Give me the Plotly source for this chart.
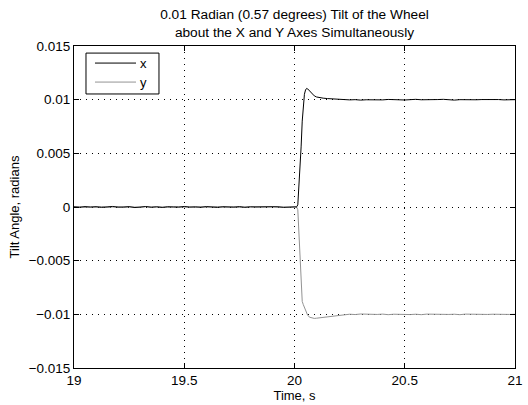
import plotly.graph_objects as go

# ---- data ----
time_before = [19.000, 19.025, 19.050, 19.075, 19.100, 19.125, 19.150, 19.175, 19.200, 19.225,
               19.250, 19.275, 19.300, 19.325, 19.350, 19.375, 19.400, 19.425, 19.450, 19.475,
               19.500, 19.525, 19.550, 19.575, 19.600, 19.625, 19.650, 19.675, 19.700, 19.725,
               19.750, 19.775, 19.800, 19.825, 19.850, 19.875, 19.900, 19.925, 19.950, 19.975]
x_before = [0.00002, -0.00003, 0.00004, -0.00001, 0.00003, -0.00004, 0.00001, 0.00005, -0.00002, 0.00000,
            0.00003, -0.00005, 0.00002, 0.00004, -0.00002, 0.00001, -0.00004, 0.00003, 0.00000, -0.00002,
            0.00005, -0.00001, 0.00002, -0.00003, 0.00004, 0.00000, -0.00004, 0.00003, 0.00001, -0.00002,
            0.00004, -0.00003, 0.00001, 0.00002, -0.00004, 0.00003, -0.00001, 0.00002, -0.00003, 0.00001]
y_before = [-0.00001, 0.00003, -0.00004, 0.00002, -0.00002, 0.00004, -0.00003, 0.00001, 0.00003, -0.00005,
            0.00002, 0.00000, -0.00003, 0.00004, -0.00001, 0.00003, 0.00001, -0.00004, 0.00002, 0.00004,
            -0.00002, 0.00001, -0.00004, 0.00003, -0.00001, 0.00002, 0.00004, -0.00003, 0.00000, 0.00003,
            -0.00004, 0.00002, 0.00003, -0.00002, 0.00001, -0.00003, 0.00004, -0.00001, 0.00002, -0.00002]

time_step = [20.000, 20.005, 20.010, 20.015, 20.020, 20.025, 20.030, 20.035, 20.040, 20.045,
             20.050, 20.055, 20.060, 20.070, 20.080, 20.090, 20.100, 20.115, 20.130, 20.150, 20.175]
x_step = [0.00001, 0.00000, 0.00002, 0.00020, 0.00180, 0.00330, 0.00560, 0.00800, 0.00970, 0.01050,
          0.01090, 0.01105, 0.01100, 0.01075, 0.01050, 0.01035, 0.01025, 0.01018, 0.01014, 0.01010, 0.01006]
y_step = [-0.00001, 0.00001, -0.00002, -0.00025, -0.00260, -0.00560, -0.00800, -0.00880, -0.00910, -0.00940,
          -0.00970, -0.00990, -0.01010, -0.01028, -0.01036, -0.01038, -0.01036, -0.01033, -0.01030, -0.01024, -0.01016]

time_after = [20.200, 20.225, 20.250, 20.275, 20.300, 20.325, 20.350, 20.375, 20.400, 20.425,
              20.450, 20.475, 20.500, 20.525, 20.550, 20.575, 20.600, 20.625, 20.650, 20.675,
              20.700, 20.725, 20.750, 20.775, 20.800, 20.825, 20.850, 20.875, 20.900, 20.925,
              20.950, 20.975, 21.000]
x_after = [0.01004, 0.01001, 0.00998, 0.01000, 0.00996, 0.00999, 0.00997, 0.01001, 0.00998, 0.01002,
           0.00999, 0.01001, 0.00997, 0.01000, 0.01003, 0.00999, 0.01002, 0.00998, 0.01001, 0.01003,
           0.00998, 0.00996, 0.01000, 0.00998, 0.01002, 0.00999, 0.01001, 0.01003, 0.00999, 0.01001,
           0.00998, 0.01002, 0.01000]
y_after = [-0.01010, -0.01005, -0.00999, -0.01002, -0.00997, -0.01000, -0.00996, -0.01001, -0.00998, -0.01003,
           -0.00999, -0.01001, -0.00997, -0.01002, -0.00999, -0.01003, -0.00998, -0.01000, -0.01002, -0.00997,
           -0.01001, -0.00999, -0.01003, -0.00998, -0.01000, -0.01002, -0.00997, -0.01001, -0.00999, -0.01002,
           -0.00998, -0.01001, -0.01000]

time = time_before + time_step + time_after
tilt_x = x_before + x_step + x_after
tilt_y = y_before + y_step + y_after

series_names = ["x", "y"]
series_colors = ["#000000", "#939393"]

x_ticks = [19, 19.5, 20, 20.5, 21]
y_ticks = [-0.015, -0.01, -0.005, 0, 0.005, 0.01, 0.015]
y_ticktext = ["\u22120.015", "\u22120.01", "\u22120.005", "0", "0.005", "0.01", "0.015"]

FONT = "Liberation Sans, Arial, Helvetica, sans-serif"
TICK_SIZE = 13.5
LABEL_SIZE = 13
TITLE_SIZE = 13.7

fig = go.Figure()
fig.add_trace(go.Scatter(x=time, y=tilt_y, mode="lines", name=series_names[1],
                         line=dict(color=series_colors[1], width=1), showlegend=False))
fig.add_trace(go.Scatter(x=time, y=tilt_x, mode="lines", name=series_names[0],
                         line=dict(color=series_colors[0], width=1), showlegend=False))

axis_common = dict(
    showline=True, linecolor="black", linewidth=1, mirror="ticks",
    ticks="inside", ticklen=5, tickcolor="black",
    showgrid=True, gridcolor="black", gridwidth=1, griddash="1px,5px",
    zeroline=False, automargin=False,
    tickfont=dict(size=TICK_SIZE, color="black", family=FONT),
)

fig.update_xaxes(range=[19, 21], tickvals=x_ticks,
                 ticktext=[str(v) for v in x_ticks],
                 title=dict(text="Time, s", font=dict(size=LABEL_SIZE, color="black", family=FONT), standoff=2),
                 **axis_common)
fig.update_yaxes(range=[-0.015, 0.015], tickvals=y_ticks, ticktext=y_ticktext,
                 title=dict(text="Tilt Angle, radians", font=dict(size=LABEL_SIZE, color="black", family=FONT), standoff=6),
                 **axis_common)

# Legend box (MATLAB style), drawn in paper coordinates
shapes = [dict(type="rect", xref="paper", yref="paper", x0=0.0272, x1=0.1927, y0=0.851, y1=0.978,
               line=dict(color="black", width=1), fillcolor="white", layer="above")]
annotations = []
legend_rows = [0.947, 0.888]
for name, color, yy in zip(series_names, series_colors, legend_rows):
    shapes.append(dict(type="line", xref="paper", yref="paper", x0=0.0476, x1=0.1406, y0=yy, y1=yy,
                       line=dict(color=color, width=1), layer="above"))
    annotations.append(dict(xref="paper", yref="paper", x=0.145, y=yy, xanchor="left", yanchor="middle",
                            text=name, showarrow=False,
                            font=dict(size=LABEL_SIZE, color="black", family=FONT)))

fig.update_layout(
    width=528, height=405,
    margin=dict(l=74, r=13, t=46, b=37, autoexpand=False),
    paper_bgcolor="white", plot_bgcolor="white",
    font=dict(family=FONT, size=LABEL_SIZE, color="black"),
    title=dict(text="0.01 Radian (0.57 degrees) Tilt of the Wheel<br>about the X and Y Axes Simultaneously",
               x=0.5, xref="paper", xanchor="center",
               y=1 - 19 / 405, yref="container", yanchor="top",
               font=dict(size=TITLE_SIZE, color="black", family=FONT)),
    shapes=shapes,
    annotations=annotations,
    showlegend=False,
)

fig.write_html(
    "out.html",
    config={"displayModeBar": False, "staticPlot": True},
    post_script="document.body.style.margin='0';document.body.style.overflow='hidden';"
                "document.documentElement.style.overflow='hidden';",
)
